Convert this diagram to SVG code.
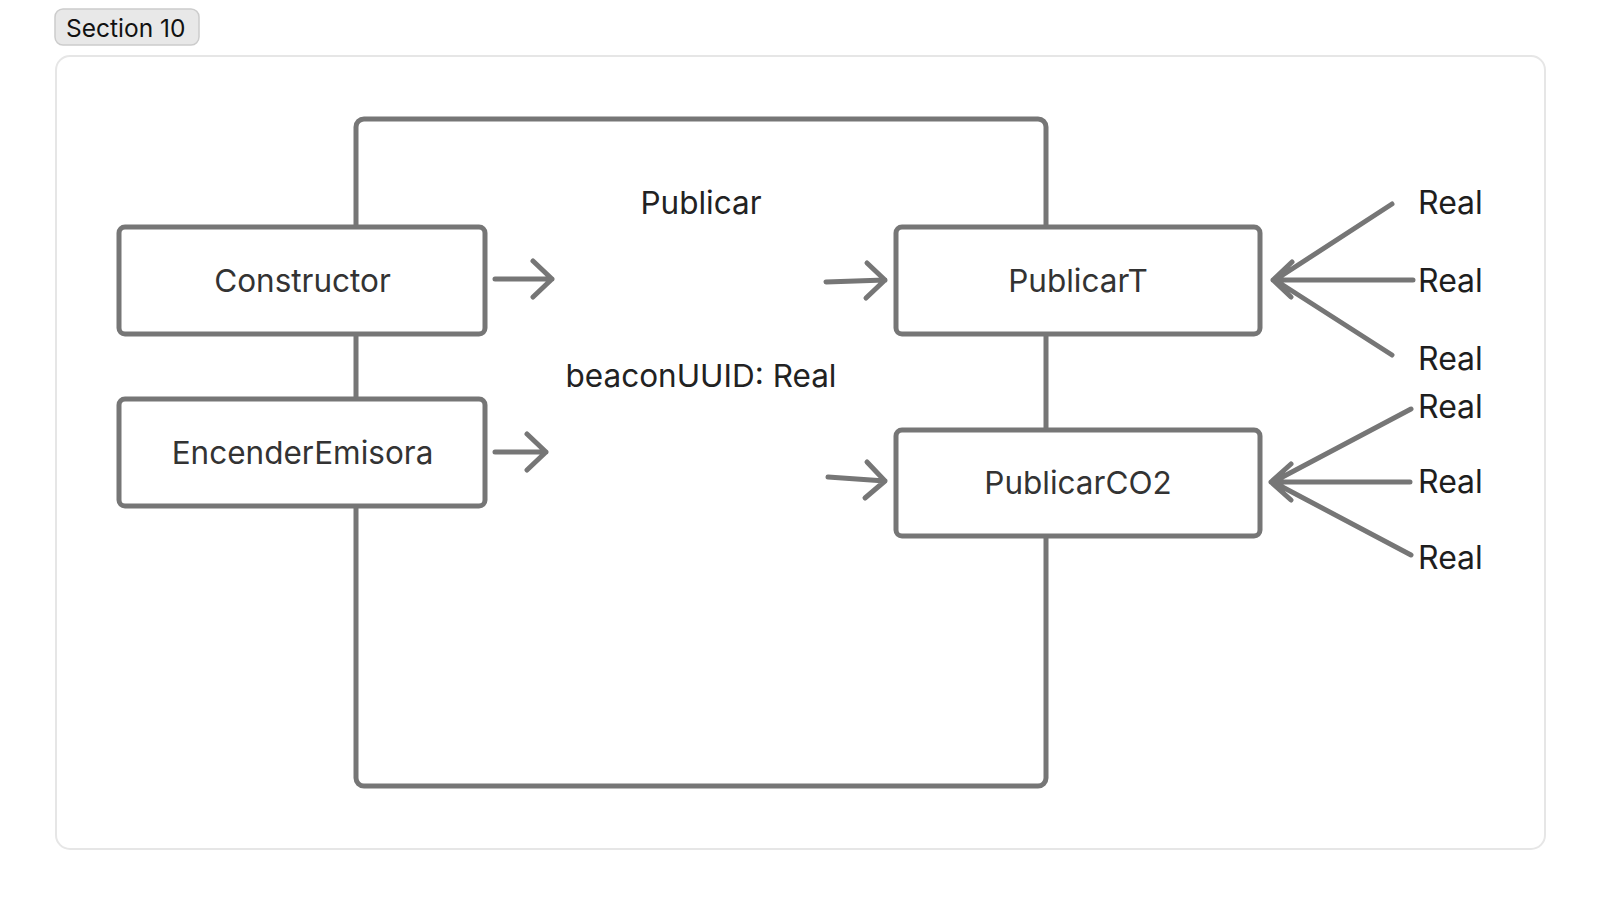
<svg xmlns="http://www.w3.org/2000/svg" width="1600" height="905" viewBox="0 0 1600 905">
<style>
.node{fill:#ffffff;stroke:#767676;stroke-width:5}
.lbl{font-family:Inter,"Noto Sans","Liberation Sans",sans-serif;font-size:31.5px;fill:#333333;text-anchor:middle}
.real{font-family:Inter,"Noto Sans","Liberation Sans",sans-serif;font-size:32px;fill:#1e1e1e}
.edge{fill:none;stroke:#767676;stroke-width:5;stroke-linecap:round;stroke-linejoin:round}
</style>
<rect width="1600" height="905" fill="#ffffff"/>
<g id="section">
<rect x="56" y="56" width="1489" height="793" rx="14" fill="#ffffff" stroke="#e6e6e6" stroke-width="2"/>
<rect x="55" y="9" width="144" height="36" rx="8" fill="#e8e8e8" stroke="#cccccc" stroke-width="1.5"/>
<text x="66" y="37" style="font-family:Inter,'Noto Sans','Liberation Sans',sans-serif;font-size:24.5px;fill:#111111">Section 10</text>
</g>
<g id="publicar">
<rect x="356" y="119" width="690" height="667" rx="8" fill="none" stroke="#767676" stroke-width="5"/>
<text class="lbl" x="701" y="214" style="fill:#222222">Publicar</text>
<text class="lbl" x="701" y="387" style="fill:#222222">beaconUUID: Real</text>
</g>
<g id="connectors">
<path class="edge" d="M495 279 H552 M533 261 L552 279 L533 297"/>
<path class="edge" d="M495 452 H546 M527 434 L546 452 L527 470"/>
<path class="edge" d="M826 282 L885 280 M867 263 L885 280 L866 298"/>
<path class="edge" d="M828 477 L885 481 M867 462 L885 481 L865 498"/>
<path class="edge" d="M1392 204 L1275 280 M1413 280 H1273 M1392 355 L1275 280 M1292 262 L1273 280 L1291 297"/>
<path class="edge" d="M1411 409 L1273 482 M1410 482 H1271 M1411 555 L1273 482 M1291 464 L1271 482 L1291 500"/>
</g>
<g id="constructor">
<rect class="node" x="119" y="227" width="366" height="107" rx="6"/>
<text class="lbl" x="302.5" y="292">Constructor</text>
</g>
<g id="encenderEmisora">
<rect class="node" x="119" y="399" width="366" height="107" rx="6"/>
<text class="lbl" x="302.5" y="464">EncenderEmisora</text>
</g>
<g id="publicarT">
<rect class="node" x="896" y="227" width="364" height="107" rx="6"/>
<text class="lbl" x="1078" y="292">PublicarT</text>
</g>
<g id="publicarCO2">
<rect class="node" x="896" y="430" width="364" height="106" rx="6"/>
<text class="lbl" x="1078" y="494">PublicarCO2</text>
</g>
<g id="types">
<text class="real" x="1418" y="214">Real</text>
<text class="real" x="1418" y="292">Real</text>
<text class="real" x="1418" y="370">Real</text>
<text class="real" x="1418" y="418">Real</text>
<text class="real" x="1418" y="493">Real</text>
<text class="real" x="1418" y="569">Real</text>
</g>
</svg>
